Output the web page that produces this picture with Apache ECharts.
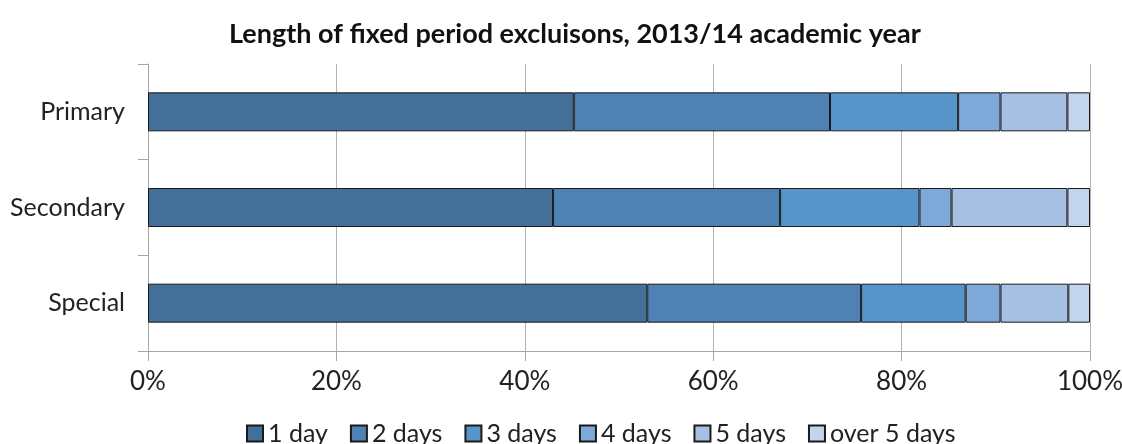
<!DOCTYPE html>
<html>
<head>
<meta charset="utf-8">
<script src="https://cdn.jsdelivr.net/npm/echarts@6/dist/echarts.min.js"></script>
<style>
  html, body { margin: 0; padding: 0; background: #fff; }
  #chart { width: 1122px; height: 444px; }
</style>
</head>
<body>
<div id="chart"></div>
<script>
const categories = ["Primary", "Secondary", "Special"]
const seriesNames = ["1 day", "2 days", "3 days", "4 days", "5 days", "over 5 days"]
const oneDay = [45.2, 43.0, 53.0]
const twoDays = [27.2, 24.1, 22.7]
const threeDays = [13.6, 14.8, 11.1]
const fourDays = [4.5, 3.4, 3.7]
const fiveDays = [7.1, 12.3, 7.2]
const overFive = [2.4, 2.4, 2.3]
const colors = ["#436F99", "#4E82B4", "#5694CA", "#7DA8D8", "#A5C0E3", "#C3D5EC"]

// Lato is the closest installed match to the original's Calibri
const font = 'Lato, "Open Sans", sans-serif'
const values = [oneDay, twoDays, threeDays, fourDays, fiveDays, overFive]

const myChart = echarts.init(document.getElementById("chart"))

myChart.setOption({
  animation: false,
  textStyle: { fontFamily: font },
  title: {
    text: "Length of fixed period excluisons, 2013/14 academic year",
    left: 224,
    top: 16,
    textStyle: { fontFamily: font, fontSize: 27, fontWeight: "bold", color: "#111" }
  },
  legend: {
    data: seriesNames,
    top: 416,
    left: 241,
    itemWidth: 16,
    itemHeight: 16,
    itemGap: 22,
    icon: "rect",
    textStyle: { fontFamily: font, fontSize: 25, color: "#222" }
  },
  grid: {
    left: 148,
    right: 32,
    top: 64,
    bottom: 93,
    outerBoundsMode: "none"
  },
  xAxis: {
    type: "value",
    min: 0,
    max: 100,
    interval: 20,
    axisLine: { show: true, lineStyle: { color: "#A6A6A6", width: 1 } },
    axisTick: { show: true, length: 10, lineStyle: { color: "#A6A6A6" } },
    splitLine: { show: true, lineStyle: { color: "#B3B3B3", width: 1 } },
    axisLabel: {
      formatter: "{value}%",
      fontFamily: font,
      fontSize: 26,
      color: "#222",
      margin: 18
    }
  },
  yAxis: {
    type: "category",
    data: categories,
    inverse: true,
    axisLine: { show: true, lineStyle: { color: "#A6A6A6", width: 1 } },
    axisTick: { show: true, length: 10, lineStyle: { color: "#A6A6A6" } },
    axisLabel: { fontFamily: font, fontSize: 25, color: "#222", margin: 23 }
  },
  series: seriesNames.map((name, i) => ({
    name: name,
    type: "bar",
    stack: "total",
    data: values[i],
    barWidth: 39,
    itemStyle: { color: colors[i], borderColor: "#1a1a1a", borderWidth: 1 }
  }))
})
</script>
</body>
</html>
